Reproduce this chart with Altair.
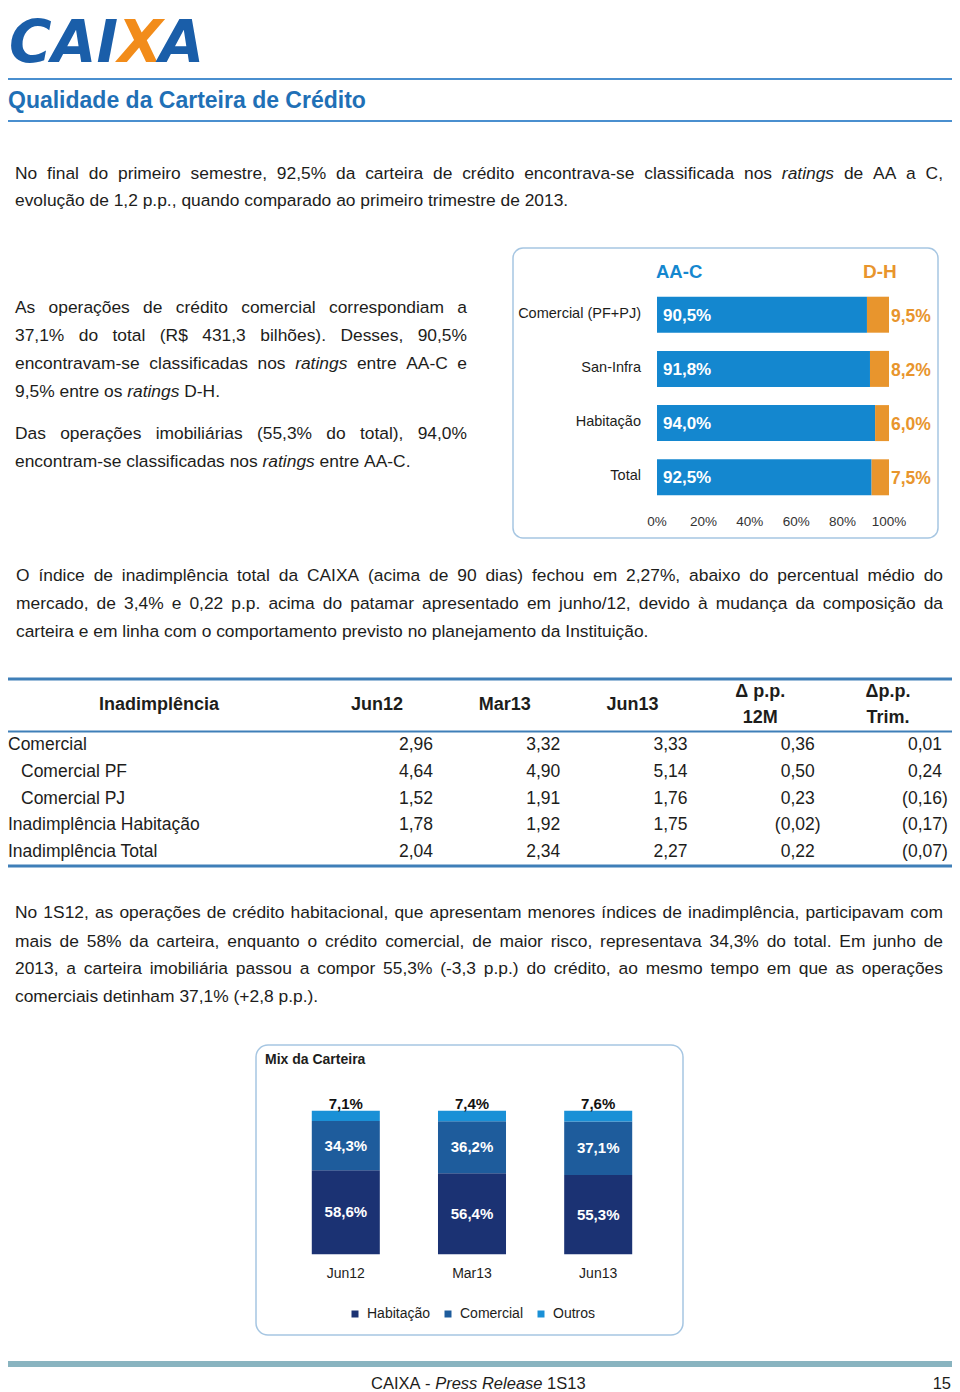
import unicodedata
import altair as alt
import pandas as pd

# ================= DATA =================
rating_cats = ["Comercial (PF+PJ)", "San-Infra", "Habitação", "Total"]
rating_segs = ["AA-C", "D-H"]
rating_aac = [90.5, 91.8, 94.0, 92.5]
rating_dh = [9.5, 8.2, 6.0, 7.5]
rating_ticks = [0, 20, 40, 60, 80, 100]

inad_rows = ["Comercial", "Comercial PF", "Comercial PJ",
             "Inadimplência Habitação", "Inadimplência Total"]
inad_level = [0, 1, 1, 0, 0]
inad_cols = ["Jun12", "Mar13", "Jun13", "Δ p.p. 12M", "Δp.p. Trim."]
inad_jun12 = [2.96, 4.64, 1.52, 1.78, 2.04]
inad_mar13 = [3.32, 4.90, 1.91, 1.92, 2.34]
inad_jun13 = [3.33, 5.14, 1.76, 1.75, 2.27]
inad_d12m = [0.36, 0.50, 0.23, -0.02, 0.22]
inad_dtrim = [0.01, 0.24, -0.16, -0.17, -0.07]

mix_periods = ["Jun12", "Mar13", "Jun13"]
mix_series = ["Habitação", "Comercial", "Outros"]
mix_hab = [58.6, 56.4, 55.3]
mix_com = [34.3, 36.2, 37.1]
mix_out = [7.1, 7.4, 7.6]

para1 = ["No final do primeiro semestre, 92,5% da carteira de crédito encontrava-se classificada nos *ratings* de AA a C,",
         "evolução de 1,2 p.p., quando comparado ao primeiro trimestre de 2013."]
para2 = ["As operações de crédito comercial correspondiam a",
         "37,1% do total (R$ 431,3 bilhões). Desses, 90,5%",
         "encontravam-se classificadas nos *ratings* entre AA-C e",
         "9,5% entre os *ratings* D-H."]
para3 = ["Das operações imobiliárias (55,3% do total), 94,0%",
         "encontram-se classificadas nos *ratings* entre AA-C."]
para4 = ["O índice de inadimplência total da CAIXA (acima de 90 dias) fechou em 2,27%, abaixo do percentual médio do",
         "mercado, de 3,4% e 0,22 p.p. acima do patamar apresentado em junho/12, devido à mudança da composição da",
         "carteira e em linha com o comportamento previsto no planejamento da Instituição."]
para5 = ["No 1S12, as operações de crédito habitacional, que apresentam menores índices de inadimplência, participavam com",
         "mais de 58% da carteira, enquanto o crédito comercial, de maior risco, representava 34,3% do total. Em junho de",
         "2013, a carteira imobiliária passou a compor 55,3% (-3,3 p.p.) do crédito, ao mesmo tempo em que as operações",
         "comerciais detinham 37,1% (+2,8 p.p.)."]
footer_line = "CAIXA - *Press* *Release* 1S13"
page_number = "15"
page_title = "Qualidade da Carteira de Crédito"
mix_title = "Mix da Carteira"

# ================= STYLE / LAYOUT =================
FONT = "Liberation Sans"
INK = "#1d1d1b"
BLUE = "#1487cf"
ORANGE = "#e8952d"
TITLE_BLUE = "#1f70b6"
RULE_BLUE = "#4a8fcf"
TABLE_RULE = "#3f7fb8"
BOX = "#a6c6e2"
NAVY = "#1b3273"
MIDBLUE = "#1e5c9c"
LIGHTBLUE = "#1a90d6"
LOGO_BLUE = "#1a5ea9"
LOGO_ORANGE = "#f28c1a"
FOOT_BAR = "#89b4c0"

OFF = 8
def X(v):
    return v - OFF
def Y(v):
    return v - OFF

HELV = {' ': 278, '!': 278, '"': 355, '#': 556, '$': 556, '%': 889, '&': 667, "'": 191,
        '(': 333, ')': 333, '*': 389, '+': 584, ',': 278, '-': 333, '.': 278, '/': 278,
        ':': 278, ';': 278, '?': 556,
        'A': 667, 'B': 667, 'C': 722, 'D': 722, 'E': 667, 'F': 611, 'G': 778, 'H': 722,
        'I': 278, 'J': 500, 'K': 667, 'L': 556, 'M': 833, 'N': 722, 'O': 778, 'P': 667,
        'Q': 778, 'R': 722, 'S': 667, 'T': 611, 'U': 722, 'V': 667, 'W': 944, 'X': 667,
        'Y': 667, 'Z': 611,
        'a': 556, 'b': 556, 'c': 500, 'd': 556, 'e': 556, 'f': 278, 'g': 556, 'h': 556,
        'i': 222, 'j': 222, 'k': 500, 'l': 222, 'm': 833, 'n': 556, 'o': 556, 'p': 556,
        'q': 556, 'r': 333, 's': 500, 't': 278, 'u': 556, 'v': 500, 'w': 722, 'x': 500,
        'y': 500, 'z': 500}
for d in "0123456789":
    HELV[d] = 556


def char_w(c):
    if c in HELV:
        return HELV[c]
    base = unicodedata.normalize("NFD", c)[0]
    if base == "i":
        return 278
    return HELV.get(base, 556)


def text_w(s, fs):
    return sum(char_w(c) for c in s) * fs / 1000.0


word_rows = []


def layout_line(line, left, right, base, fs, justify):
    items = []
    for w in line.split(" "):
        it = w.startswith("*") and w.endswith("*")
        items.append((w.strip("*"), it))
    widths = [text_w(t, fs) for t, _ in items]
    space = 278 * fs / 1000.0
    gap = space
    if justify and len(items) > 1:
        gap = max((right - left - sum(widths)) / (len(items) - 1), space * 0.6)
    x = left
    for (t, it), w in zip(items, widths):
        word_rows.append(dict(x=X(x), y=Y(base), text=t, italic=it, fs=fs))
        x += w + gap


BODY_FS = 17.4
PARAS = [
    (para1, 15, 943, [179, 206]),
    (para2, 15, 467, [312.7, 340.7, 368.7, 396.7]),
    (para3, 15, 467, [439.3, 466.7]),
    (para4, 16, 943, [581, 609, 637]),
    (para5, 15, 943, [918, 946.5, 974, 1001.5]),
]
for lines, left, right, bases in PARAS:
    for i, (ln, b) in enumerate(zip(lines, bases)):
        layout_line(ln, left, right, b, BODY_FS, i < len(lines) - 1)
layout_line(footer_line, 371, 587, 1389, 16.5, False)
words_df = pd.DataFrame(word_rows)

DUMMY = pd.DataFrame({"d": [0]})
layers = []


def txt(s, x, y, size, color=INK, weight="normal", style="normal", align="left",
        baseline="alphabetic", font=FONT):
    return alt.Chart(DUMMY).mark_text(
        text=s, align=align, baseline=baseline, font=font, fontSize=size,
        fontWeight=weight, fontStyle=style, color=color
    ).encode(x=alt.value(X(x)), y=alt.value(Y(y)))


def hrule(x1, x2, y, color, width):
    return alt.Chart(DUMMY).mark_rule(color=color, strokeWidth=width).encode(
        x=alt.value(X(x1)), x2=alt.value(X(x2)), y=alt.value(Y(y)))


def rbox(x1, y1, x2, y2, color, radius, width=1.5):
    return alt.Chart(DUMMY).mark_rect(
        cornerRadius=radius, stroke=color, strokeWidth=width, fill="white", fillOpacity=0
    ).encode(x=alt.value(X(x1)), x2=alt.value(X(x2)), y=alt.value(Y(y1)), y2=alt.value(Y(y2)))


def band(x1, y1, x2, y2, color):
    return alt.Chart(DUMMY).mark_rect(color=color).encode(
        x=alt.value(X(x1)), x2=alt.value(X(x2)), y=alt.value(Y(y1)), y2=alt.value(Y(y2)))


# ---------- header ----------
LOGO_FS = 58
LOGO_X = 9
LOGO_BASE = 62
cai_w = (734 + 774 + 372) * LOGO_FS / 1000.0
x_w = 712 * LOGO_FS / 1000.0
layers.append(txt("CAI", LOGO_X, LOGO_BASE, LOGO_FS, LOGO_BLUE, "bold", "italic", font="DejaVu Sans"))
layers.append(txt("X", LOGO_X + cai_w, LOGO_BASE, LOGO_FS, LOGO_ORANGE, "bold", "italic", font="DejaVu Sans"))
layers.append(txt("A", LOGO_X + cai_w + x_w, LOGO_BASE, LOGO_FS, LOGO_BLUE, "bold", "italic", font="DejaVu Sans"))
layers.append(hrule(3, 955, 79, RULE_BLUE, 2))
layers.append(hrule(3, 955, 121, RULE_BLUE, 2))
layers.append(txt(page_title, 8, 108, 23, TITLE_BLUE, "bold"))

# ---------- paragraphs ----------
for it in (False, True):
    layers.append(
        alt.Chart(words_df[words_df["italic"] == it]).mark_text(
            align="left", baseline="alphabetic", font=FONT, color=INK,
            fontStyle="italic" if it else "normal"
        ).encode(
            x=alt.X("x:Q", scale=None, axis=None),
            y=alt.Y("y:Q", scale=None, axis=None),
            text="text:N",
            size=alt.Size("fs:Q", scale=None, legend=None),
        )
    )
layers.append(txt(page_number, 951, 1389, 16.5, INK, align="right"))

# ---------- ratings chart ----------
def pct(v):
    return f"{v:.1f}".replace(".", ",") + "%"

rat_df = pd.DataFrame({
    "cat": rating_cats * 2,
    "seg": [rating_segs[0]] * 4 + [rating_segs[1]] * 4,
    "val": rating_aac + rating_dh,
    "ord": [0] * 4 + [1] * 4,
})
rat_df["lab"] = [pct(v) for v in rat_df["val"]]
rx = alt.Scale(domain=[0, 100], range=[X(657), X(889)])
ry = alt.Scale(domain=rating_cats, range=[Y(287.6), Y(504.4)], paddingInner=0.336, paddingOuter=0.168)
rc = alt.Scale(domain=rating_segs, range=[BLUE, ORANGE])

layers.append(rbox(513, 248, 938, 538, BOX, 10))
layers.append(
    alt.Chart(rat_df).mark_bar().encode(
        x=alt.X("val:Q", stack="zero", scale=rx, axis=None),
        y=alt.Y("cat:N", scale=ry, axis=None),
        color=alt.Color("seg:N", scale=rc, legend=None),
        order=alt.Order("ord:Q"),
    )
)
layers.append(
    alt.Chart(rat_df[rat_df["seg"] == "AA-C"]).transform_calculate(z="0").mark_text(
        align="left", baseline="middle", color="white", font=FONT, fontWeight="bold",
        fontSize=17, dx=6, dy=1
    ).encode(x=alt.X("z:Q", scale=rx, axis=None), y=alt.Y("cat:N", scale=ry, axis=None), text="lab:N")
)
layers.append(
    alt.Chart(rat_df[rat_df["seg"] == "D-H"]).transform_calculate(z="100").mark_text(
        align="left", baseline="middle", color=ORANGE, font=FONT, fontWeight="bold",
        fontSize=17.5, dx=2, dy=2
    ).encode(x=alt.X("z:Q", scale=rx, axis=None), y=alt.Y("cat:N", scale=ry, axis=None), text="lab:N")
)
layers.append(
    alt.Chart(pd.DataFrame({"cat": rating_cats})).mark_text(
        align="right", baseline="middle", color=INK, font=FONT, fontSize=14.5, dy=-1
    ).encode(x=alt.value(X(641)), y=alt.Y("cat:N", scale=ry, axis=None), text="cat:N")
)
tick_df = pd.DataFrame({"t": rating_ticks, "lab": [f"{t}%" for t in rating_ticks]})
layers.append(
    alt.Chart(tick_df).mark_text(align="center", baseline="middle", color="#333333",
                                 font=FONT, fontSize=13.5).encode(
        x=alt.X("t:Q", scale=rx, axis=None), y=alt.value(Y(522)), text="lab:N")
)
layers.append(txt(rating_segs[0], 656, 278, 18.5, BLUE, "bold"))
layers.append(txt(rating_segs[1], 863, 278, 19, ORANGE, "bold"))

# ---------- table ----------
cols_vals = [inad_jun12, inad_mar13, inad_jun13, inad_d12m, inad_dtrim]
trows = []
for i, r in enumerate(inad_rows):
    for c, vals in zip(inad_cols, cols_vals):
        v = vals[i]
        lab = f"{abs(v):.2f}".replace(".", ",")
        if v < 0:
            lab = f"({lab})"
        trows.append(dict(row=r, col=c, val=v, lab=lab, neg=bool(v < 0)))
tab_df = pd.DataFrame(trows)
tx = alt.Scale(type="point", domain=inad_cols, range=[X(433), X(942)], padding=0)
ty = alt.Scale(type="point", domain=inad_rows, range=[Y(745), Y(852)], padding=0)
hx = alt.Scale(type="point", domain=inad_cols, range=[X(377), X(888)], padding=0)

layers.append(hrule(5, 952, 679, TABLE_RULE, 3))
layers.append(hrule(5, 952, 731.5, TABLE_RULE, 2))
layers.append(hrule(5, 952, 866, TABLE_RULE, 3))
for neg, dx in ((False, 0), (True, 5.8)):
    layers.append(
        alt.Chart(tab_df[tab_df["neg"] == neg]).mark_text(
            align="right", baseline="middle", font=FONT, fontSize=17.5, color=INK, dx=dx
        ).encode(x=alt.X("col:N", scale=tx, axis=None), y=alt.Y("row:N", scale=ty, axis=None), text="lab:N")
    )
lab_df = pd.DataFrame({"row": inad_rows, "level": inad_level})
for lvl, lx in ((0, 8), (1, 21)):
    layers.append(
        alt.Chart(lab_df[lab_df["level"] == lvl]).mark_text(
            align="left", baseline="middle", font=FONT, fontSize=17.5, color=INK
        ).encode(x=alt.value(X(lx)), y=alt.Y("row:N", scale=ty, axis=None), text="row:N")
    )
head_df = pd.DataFrame({"col": inad_cols})
head_df["l1"] = [c if i < 3 else c.rsplit(" ", 1)[0] for i, c in enumerate(inad_cols)]
head_df["l2"] = [c.rsplit(" ", 1)[1] if i >= 3 else "" for i, c in enumerate(inad_cols)]
head_df["two"] = [i >= 3 for i in range(len(inad_cols))]
hmark = dict(align="center", baseline="middle", font=FONT, fontSize=18, fontWeight="bold", color=INK)
layers.append(alt.Chart(head_df[~head_df["two"]]).mark_text(**hmark).encode(
    x=alt.X("col:N", scale=hx, axis=None), y=alt.value(Y(705)), text="l1:N"))
layers.append(alt.Chart(head_df[head_df["two"]]).mark_text(**hmark).encode(
    x=alt.X("col:N", scale=hx, axis=None), y=alt.value(Y(692)), text="l1:N"))
layers.append(alt.Chart(head_df[head_df["two"]]).mark_text(**hmark).encode(
    x=alt.X("col:N", scale=hx, axis=None), y=alt.value(Y(718)), text="l2:N"))
layers.append(txt("Inadimplência", 159, 705, 18, INK, "bold", align="center", baseline="middle"))

# ---------- mix chart ----------
mix_df = pd.DataFrame({
    "period": mix_periods * 3,
    "series": [s for s in mix_series for _ in mix_periods],
    "val": mix_hab + mix_com + mix_out,
    "ord": [k for k in range(3) for _ in mix_periods],
})
mix_df["lab"] = [pct(v) for v in mix_df["val"]]
mxs = alt.Scale(domain=mix_periods, range=[X(282.7), X(661.3)], paddingInner=0.461, paddingOuter=0.2305)
mys = alt.Scale(domain=[0, 100], range=[Y(1254.3), Y(1110.7)])
mcs = alt.Scale(domain=mix_series, range=[NAVY, MIDBLUE, LIGHTBLUE])

layers.append(rbox(256, 1045, 683, 1335, BOX, 12))
layers.append(txt(mix_title, 265, 1064, 14, INK, "bold"))
layers.append(
    alt.Chart(mix_df).mark_bar().encode(
        x=alt.X("period:N", scale=mxs, axis=None),
        y=alt.Y("val:Q", stack="zero", scale=mys, axis=None),
        color=alt.Color("series:N", scale=mcs, legend=alt.Legend(
            orient="none", legendX=X(348), legendY=Y(1307), direction="horizontal",
            title=None, symbolType="square", symbolSize=49, symbolStrokeWidth=0,
            labelFont=FONT, labelFontSize=14, labelColor=INK, labelOffset=5,
            columnPadding=10, padding=0)),
        order=alt.Order("ord:Q"),
    )
)
stacked = alt.Chart(mix_df).transform_stack(
    stack="val", groupby=["period"], as_=["v0", "v1"], sort=[alt.SortField("ord")]
).transform_calculate(mid="(datum.v0 + datum.v1) / 2")
layers.append(
    stacked.transform_filter("datum.series != 'Outros'").mark_text(
        align="center", baseline="middle", color="white", font=FONT, fontWeight="bold", fontSize=15
    ).encode(x=alt.X("period:N", scale=mxs, axis=None), y=alt.Y("mid:Q", scale=mys, axis=None), text="lab:N")
)
layers.append(
    stacked.transform_filter("datum.series == 'Outros'").mark_text(
        align="center", baseline="alphabetic", color="#111111", font=FONT, fontWeight="bold",
        fontSize=15, dy=-2
    ).encode(x=alt.X("period:N", scale=mxs, axis=None), y=alt.Y("v1:Q", scale=mys, axis=None), text="lab:N")
)
layers.append(
    alt.Chart(pd.DataFrame({"period": mix_periods})).mark_text(
        align="center", baseline="middle", color=INK, font=FONT, fontSize=14
    ).encode(x=alt.X("period:N", scale=mxs, axis=None), y=alt.value(Y(1274)), text="period:N")
)

# ---------- footer ----------
layers.append(band(3, 1361, 957, 1367, FOOT_BAR))

chart = alt.layer(*layers).resolve_scale(
    x="independent", y="independent", color="independent", size="independent"
).properties(
    width=944, height=1384, padding=0, autosize=alt.AutoSizeParams(type="none")
).configure_view(stroke=None)

chart.save("out.html", embed_options={"renderer": "svg", "actions": False})
